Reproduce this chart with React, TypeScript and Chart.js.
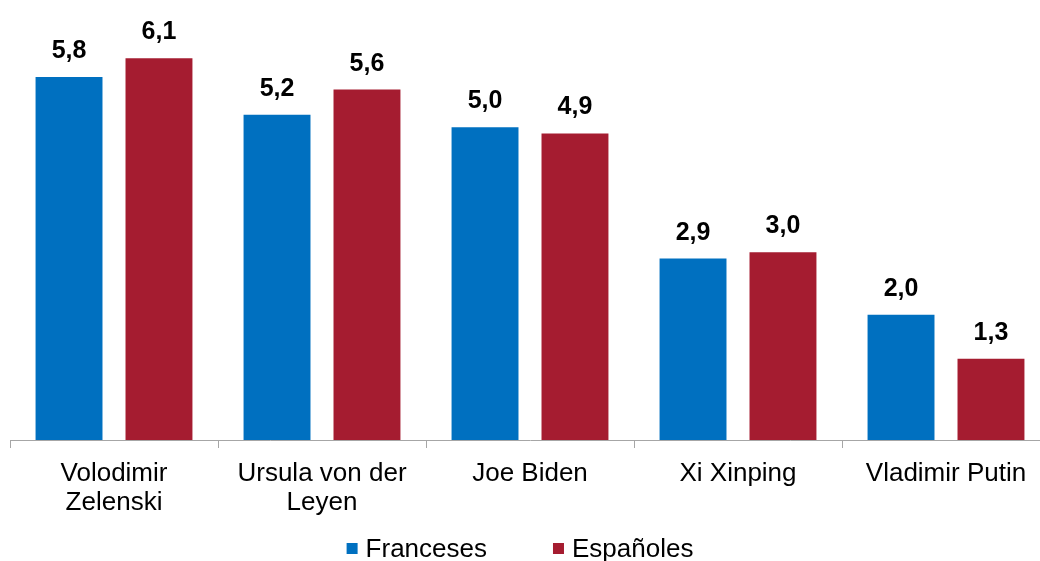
import React, { useEffect, useRef } from "react";
import { Chart, registerables } from "chart.js";

Chart.register(...registerables);

const categories: (string | string[])[] = [
  ["Volodimir", "Zelenski"],
  ["Ursula von der", "Leyen"],
  "Joe Biden",
  "Xi Xinping",
  "Vladimir Putin",
];
const seriesNames = ["Franceses", "Españoles"];
const franceses = [5.8, 5.2, 5.0, 2.9, 2.0];
const espanoles = [6.1, 5.6, 4.9, 3.0, 1.3];
const seriesColors = ["#0070C0", "#A51C30"];

const FONT = '"Liberation Sans", Arial, Helvetica, sans-serif';

const dataLabelPlugin = {
  id: "dataLabels",
  afterDatasetsDraw(chart: any) {
    const ctx = chart.ctx;
    ctx.save();
    ctx.font = `bold 25px ${FONT}`;
    ctx.fillStyle = "#000000";
    ctx.textAlign = "center";
    ctx.textBaseline = "alphabetic";
    chart.data.datasets.forEach((ds: any, di: number) => {
      const meta = chart.getDatasetMeta(di);
      meta.data.forEach((el: any, i: number) => {
        const v = ds.data[i] as number;
        ctx.fillText(v.toFixed(1).replace(".", ","), el.x, el.y - 19);
      });
    });
    ctx.restore();
  },
};

const legendPlugin = {
  id: "customLegend",
  afterDraw(chart: any) {
    const ctx = chart.ctx;
    ctx.save();
    ctx.font = `26px ${FONT}`;
    ctx.textBaseline = "alphabetic";
    ctx.textAlign = "left";
    const box = 11;
    const gapBoxText = 8;
    const gapItems = 66;
    const widths = seriesNames.map((n) => box + gapBoxText + ctx.measureText(n).width);
    const total = widths.reduce((a, b) => a + b, 0) + gapItems * (seriesNames.length - 1);
    let x = 520 - total / 2;
    const baseline = 557;
    seriesNames.forEach((n, i) => {
      ctx.fillStyle = seriesColors[i];
      ctx.fillRect(x, 543, box, box);
      ctx.fillStyle = "#000000";
      ctx.fillText(n, x + box + gapBoxText, baseline);
      x += widths[i] + gapItems;
    });
    ctx.restore();
  },
};

export default function App() {
  const ref = useRef<HTMLCanvasElement | null>(null);
  useEffect(() => {
    if (!ref.current) return;
    const chart = new Chart(ref.current, {
      type: "bar",
      data: {
        labels: categories,
        datasets: [
          { label: seriesNames[0], data: franceses, backgroundColor: seriesColors[0] },
          { label: seriesNames[1], data: espanoles, backgroundColor: seriesColors[1] },
        ],
      },
      options: {
        responsive: false,
        animation: false,
        devicePixelRatio: 1,
        layout: { padding: { left: 10, right: 10, top: 2, bottom: 0 } },
        datasets: {
          bar: { categoryPercentage: 0.865, barPercentage: 0.744 },
        },
        plugins: {
          legend: { display: false },
          tooltip: { enabled: false },
        },
        scales: {
          x: {
            grid: {
              display: true,
              offset: true,
              drawOnChartArea: false,
              drawTicks: true,
              tickLength: 8,
              color: "#A6A6A6",
              lineWidth: 1,
            },
            border: { display: true, color: "#A6A6A6", width: 1 },
            ticks: {
              color: "#000000",
              padding: 11,
              maxRotation: 0,
              autoSkip: false,
              font: { family: FONT, size: 26, lineHeight: 29 / 26 },
            },
            afterFit: (scale: any) => {
              scale.height = 121;
            },
          },
          y: {
            display: false,
            min: 0,
            max: 7,
          },
        },
      },
      plugins: [dataLabelPlugin, legendPlugin],
    });
    return () => chart.destroy();
  }, []);
  return (
    <div
      style={{
        position: "absolute",
        left: 0,
        top: 0,
        width: 1040,
        height: 561,
        overflow: "hidden",
        background: "#ffffff",
      }}
    >
      <canvas ref={ref} width={1060} height={561} style={{ display: "block" }} />
    </div>
  );
}
